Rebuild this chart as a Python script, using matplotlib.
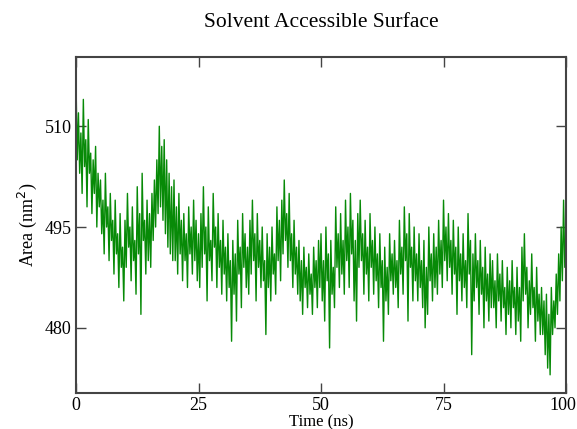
import numpy as np
import matplotlib
matplotlib.use("Agg")
import matplotlib.pyplot as plt
import matplotlib.transforms as mtransforms

# ===================================
# Data (0.25 ns steps)
# ===================================

area = [
    # 0 - 5 ns
    517, 505, 512, 503, 509, 500, 514, 504, 508, 498, 511, 503, 506, 497, 505, 500, 507, 495, 503, 498,
    # 5 - 10 ns
    502, 494, 499, 491, 503, 495, 498, 490, 500, 493, 496, 488, 499, 491, 494, 486, 497, 489, 492, 484,
    # 10 - 15 ns
    496, 489, 500, 492, 495, 487, 498, 490, 493, 485, 501, 491, 497, 482, 503, 493, 496, 488, 499, 490,
    # 15 - 20 ns
    497, 489, 500, 493, 502, 495, 505, 497, 510, 498, 507, 496, 508, 494, 505, 492, 503, 491, 501, 490,
    # 20 - 25 ns
    502, 490, 498, 488, 500, 491, 496, 487, 497, 490, 494, 486, 498, 491, 495, 488, 499, 490, 496, 487,
    # 25 - 30 ns
    494, 486, 497, 489, 501, 491, 495, 484, 498, 490, 493, 487, 500, 492, 495, 486, 497, 489, 493, 485,
    # 30 - 35 ns
    496, 488, 492, 484, 494, 486, 490, 478, 493, 485, 491, 481, 496, 488, 492, 483, 497, 489, 494, 486,
    # 35 - 40 ns
    492, 485, 496, 488, 499, 490, 494, 484, 497, 489, 493, 486, 495, 487, 490, 479, 494, 486, 492, 484,
    # 40 - 45 ns
    495, 488, 491, 485, 498, 490, 496, 487, 499, 491, 502, 493, 497, 489, 500, 490, 494, 486, 496, 488,
    # 45 - 50 ns
    492, 485, 493, 484, 490, 482, 492, 486, 489, 483, 491, 485, 488, 482, 492, 486, 490, 483, 493, 486,
    # 50 - 55 ns
    494, 484, 490, 481, 495, 487, 491, 477, 493, 485, 489, 483, 498, 489, 494, 486, 497, 488, 493, 485,
    # 55 - 60 ns
    499, 490, 495, 486, 500, 491, 496, 484, 493, 481, 497, 489, 499, 490, 494, 485, 496, 488, 492, 484,
    # 60 - 65 ns
    497, 489, 493, 485, 495, 487, 491, 483, 494, 486, 490, 478, 492, 484, 489, 482, 494, 487, 491, 485,
    # 65 - 70 ns
    493, 486, 490, 483, 496, 488, 492, 485, 498, 490, 494, 481, 497, 489, 492, 484, 495, 487, 491, 484,
    # 70 - 75 ns
    494, 486, 490, 483, 493, 480, 489, 482, 495, 487, 491, 484, 494, 486, 492, 485, 496, 488, 493, 486,
    # 75 - 80 ns
    499, 490, 495, 487, 497, 489, 493, 485, 496, 488, 492, 482, 495, 487, 491, 484, 494, 486, 490, 483,
    # 80 - 85 ns
    497, 488, 493, 476, 491, 484, 494, 486, 490, 482, 493, 485, 489, 480, 492, 484, 488, 481, 491, 483,
    # 85 - 90 ns
    490, 483, 487, 480, 491, 484, 488, 481, 490, 483, 486, 479, 489, 482, 487, 480, 490, 483, 486, 479,
    # 90 - 95 ns
    489, 481, 486, 478, 492, 484, 494, 485, 489, 480, 487, 482, 491, 483, 486, 478, 489, 481, 485, 479,
    # 95 - 100 ns
    486, 479, 484, 476, 485, 474, 482, 473, 486, 479, 484, 480, 488, 482, 491, 484, 495, 487, 499, 489,
    493,
]
time_ns = np.linspace(0, 100, len(area))

x_ticks = [0, 25, 50, 75, 100]
y_ticks = [480, 495, 510]

# ===================================
# Plot
# ===================================

plt.rcParams["font.family"] = ["Liberation Serif", "DejaVu Serif"]

fig = plt.figure(figsize=(5.77, 4.29), dpi=100)
ax = fig.add_axes([0.1317, 0.084, 0.8493, 0.783])

ax.plot(time_ns, area, color="#078a07", linewidth=1.0)

ax.set_xlim(0, 100)
ax.set_ylim(470.3, 520.3)
ax.set_xticks(x_ticks)
ax.set_yticks(y_ticks)

ax.tick_params(
    direction="in",
    length=7,
    width=1.0,
    color="#444444",
    top=True,
    right=True,
    labelsize=13,
    pad=3
)
for spine in ax.spines.values():
    spine.set_color("#444444")
    spine.set_linewidth(1.5)

# nudge the "100" label so it stays inside the figure
last_label = ax.get_xticklabels()[-1]
last_label.set_transform(
    last_label.get_transform()
    + mtransforms.ScaledTranslation(-3 / 100, 0, fig.dpi_scale_trans)
)

ax.set_title("Solvent Accessible Surface", fontsize=15.5, pad=22)
ax.set_xlabel("Time (ns)", fontsize=12, labelpad=0)
ax.set_ylabel("Area (nm$^2$)", fontsize=13, labelpad=4)

plt.savefig("out.png", dpi=100)
